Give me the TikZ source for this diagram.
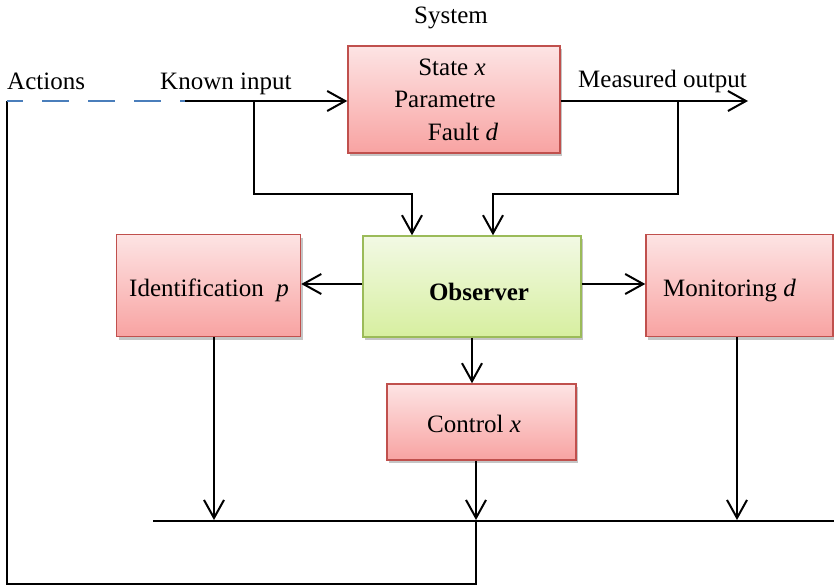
\documentclass[tikz,border=0pt]{standalone}
\usepackage{fontspec}
\setmainfont{Liberation Serif}
\usetikzlibrary{arrows.meta,shadows,calc}
\definecolor{pbord}{HTML}{C0504D}
\definecolor{ptop}{HTML}{FDE4E4}
\definecolor{pbot}{HTML}{F8A3A2}
\definecolor{gbord}{HTML}{9BBB59}
\definecolor{gtop}{HTML}{F2F9E4}
\definecolor{gbot}{HTML}{D7EFA0}
\definecolor{dashblue}{HTML}{4A7EBB}
\begin{document}
\begin{tikzpicture}[x=1pt,y=-1pt,
  font=\fontsize{25}{29}\selectfont,
  wire/.style={line width=2pt, black},
  arr/.style={wire, -{Straight Barb[length=18pt,width=20pt]}},
  boxbase/.style={inner sep=0pt, line width=1.5pt,
     drop shadow={shadow xshift=2pt, shadow yshift=-3pt, fill=black!45, opacity=0.5}},
  pinkbox/.style={boxbase, draw=pbord, top color=ptop, bottom color=pbot},
  greenbox/.style={boxbase, draw=gbord, top color=gtop, bottom color=gbot},
  txt/.style={inner sep=0pt, anchor=base},
  txtw/.style={inner sep=0pt, anchor=base west}]
\useasboundingbox (0,0) rectangle (834,586);

% boxes
\node[pinkbox, minimum width=212pt, minimum height=107pt] (sys) at (454,99.5) {};
\node[greenbox, minimum width=218pt, minimum height=101pt] (obs) at (472,286.5) {};
\node[pinkbox, minimum width=184pt, minimum height=102pt] (idn) at (208.5,285.5) {};
\node[pinkbox, minimum width=187pt, minimum height=102pt] (mon) at (739.5,285.5) {};
\node[pinkbox, minimum width=189pt, minimum height=76pt] (ctl) at (481.5,422) {};

% texts
\node[txt] (tsys) at (451,24) {System};
\node[txtw] (tact) at (7,89) {Actions};
\node[txtw] (tkin) at (160,89) {Known input};
\node[txtw] (tmo) at (578,87) {Measured output};
\node[txt] (tst) at (452,75) {State \textit{x}};
\node[txt] (tpa) at (445,107) {Parametre};
\node[txt] (tfa) at (463,140) {Fault \textit{d}};
\node[txtw] (tid) at (129,296) {Identification\ \ \textit{p}};
\node[txt] (tob) at (479,300) {\textbf{Observer}};
\node[txtw] (tmon) at (663,296) {Monitoring \textit{d}};
\node[txtw] (tctl) at (427,432) {Control \textit{x}};

% coordinates
\coordinate (act) at (7,101);
\coordinate (kin) at (185,101);
\coordinate (b1) at (254,101);
\coordinate (c1) at (412,194);
\coordinate (mout) at (748,101);
\coordinate (b2) at (678,101);
\coordinate (c2) at (493,194);
\coordinate (hy) at (0,284);
\coordinate (ox) at (472,0);
\coordinate (ix) at (214,0);
\coordinate (cx) at (476,0);
\coordinate (mx) at (737,0);
\coordinate (busL) at (153,521);
\coordinate (busR) at (834,521);
\coordinate (fb) at (476,521);
\coordinate (fbc) at (7,584);

% connectors
\draw[arr] (kin) -- (sys.west |- kin);
\draw[arr] (sys.east |- mout) -- (mout);
\draw[arr] (b1) |- (c1) -- (c1 |- obs.north);
\draw[arr] (b2) |- (c2) -- (c2 |- obs.north);
\draw[arr] (obs.west |- hy) -- (idn.east |- hy);
\draw[arr] (obs.east |- hy) -- (mon.west |- hy);
\draw[arr] (obs.south -| ox) -- (ctl.north -| ox);
\draw[arr] (idn.south -| ix) -- ($(busL -| ix)+(0,-1)$);
\draw[arr] (ctl.south -| cx) -- ($(busL -| cx)+(0,-1)$);
\draw[arr] (mon.south -| mx) -- ($(busL -| mx)+(0,-1)$);
\draw[wire] (busL) -- (busR);
\draw[wire, line width=1.5pt] (fb) |- (fbc) -- (act);
\draw[dashblue, line width=1.8pt, dash pattern=on 27pt off 19pt, dash phase=11pt] (act) -- (kin);
\end{tikzpicture}
\end{document}
